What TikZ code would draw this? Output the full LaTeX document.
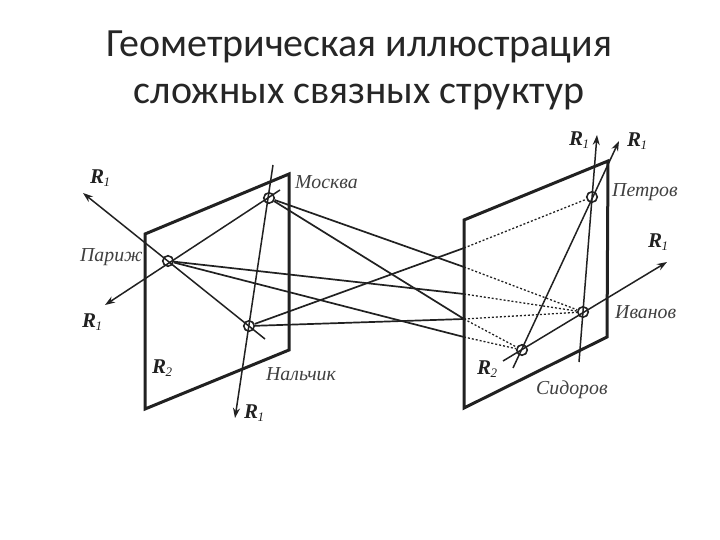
\documentclass[tikz,border=0pt]{standalone}
\usepackage{fontspec}
\setmainfont{Liberation Serif}
\newfontfamily\titlefont{Carlito}
\usetikzlibrary{arrows.meta}
\definecolor{ink}{gray}{0.13}
\definecolor{lab}{gray}{0.25}
\newcommand{\Rlab}[1]{\textbf{\textit{R}}\kern-0.5pt\raisebox{-0.35ex}{\fontsize{13}{13}\selectfont\textit{#1}}}
\tikzset{
  plane/.style={draw=ink,line width=3pt,line join=miter},
  city/.style={circle,draw=ink,line width=1.6pt,inner sep=0pt,minimum size=10.5pt},
  link/.style={draw=ink,line width=1.7pt},
  dots/.style={draw=ink,line width=1.3pt,dash pattern=on 2pt off 2pt},
  ray/.style={draw=ink,line width=1.5pt,-{Stealth[length=10pt,width=7pt]}},
  cname/.style={font=\itshape\fontsize{19.8}{20}\selectfont,text=lab,inner sep=0pt},
  rname/.style={font=\fontsize{21}{21}\selectfont,text=ink,inner sep=0pt},
  heading/.style={font=\titlefont\fontsize{40}{47}\selectfont,text=black!85,align=center,inner sep=0pt}
}
\begin{document}
\begin{tikzpicture}[x=1pt,y=-1pt]
\useasboundingbox (0,0) rectangle (720,540);
\fill[white] (0,0) rectangle (720,540);
\node[heading] (title) at (359,70) {Геометрическая иллюстрация\\сложных связных структур};
% planes
\coordinate (la) at (145,234); \coordinate (lb) at (289,174); \coordinate (lc) at (289,350); \coordinate (ld) at (145,409);
\coordinate (ra) at (464,220); \coordinate (rb) at (608,161); \coordinate (rc) at (607,337); \coordinate (rd) at (464,408);
\draw[plane] (la) -- (lb) -- (lc) -- (ld) -- cycle;
\draw[plane] (ra) -- (rb) -- (rc) -- (rd) -- cycle;
% cities
\node[city] (par) at (168,261) {};
\node[city] (mos) at (269,198) {};
\node[city] (nal) at (249,326) {};
\node[city] (pet) at (592,197) {};
\node[city] (iva) at (583,312) {};
\node[city] (sid) at (522,350) {};
% crossing points on the right plane edge
\coordinate (e1) at (464,248);
\coordinate (e2) at (464,267);
\coordinate (e3) at (464,294);
\coordinate (e4) at (464,319);
\coordinate (e5) at (464,337);
% rays
\coordinate (p1) at (265,339); \coordinate (p2) at (83,193);
\coordinate (p3) at (280,190); \coordinate (p4) at (105,305);
\coordinate (p5) at (273,165); \coordinate (p6) at (235,418);
\coordinate (q1) at (579,362); \coordinate (q2) at (597,135);
\coordinate (q3) at (513,368); \coordinate (q4) at (619,141);
\coordinate (q5) at (503,361); \coordinate (q6) at (667,262);
\draw[ray] (p1) -- (p2);
\draw[ray] (p3) -- (p4);
\draw[ray] (p5) -- (p6);
\draw[ray] (q1) -- (q2);
\draw[ray] (q3) -- (q4);
\draw[ray] (q5) -- (q6);
% links
\draw[link] (mos) -- (e2);
\draw[link] (mos) -- (e4);
\draw[link] (par) -- (e3);
\draw[link] (par) -- (e5);
\draw[link] (nal) -- (e1);
\draw[link] (nal) -- (e4);
\draw[dots] (e1) -- (pet);
\draw[dots] (e2) -- (iva);
\draw[dots] (e3) -- (iva);
\draw[dots] (e4) -- (iva);
\draw[dots] (e4) -- (sid);
\draw[dots] (e5) -- (sid);
% labels
\node[cname,anchor=west] (lmos) at (295,182) {Москва};
\node[cname,anchor=west] (lpar) at (80,257) {Париж};
\node[cname,anchor=west] (lnal) at (266,374) {Нальчик};
\node[cname,anchor=west] (lpet) at (612,192) {Петров};
\node[cname,anchor=west] (liva) at (615,312) {Иванов};
\node[cname,anchor=west] (lsid) at (536,390) {Сидоров};
\node[rname,anchor=west] (r1) at (90,178) {\Rlab{1}};
\node[rname,anchor=west] (r2) at (82,322) {\Rlab{1}};
\node[rname,anchor=west] (r3) at (244,413) {\Rlab{1}};
\node[rname,anchor=west] (r4) at (569,140) {\Rlab{1}};
\node[rname,anchor=west] (r5) at (627,141) {\Rlab{1}};
\node[rname,anchor=west] (r6) at (648,242) {\Rlab{1}};
\node[rname,anchor=west] (r7) at (152,368) {\Rlab{2}};
\node[rname,anchor=west] (r8) at (477,369) {\Rlab{2}};
\end{tikzpicture}
\end{document}
